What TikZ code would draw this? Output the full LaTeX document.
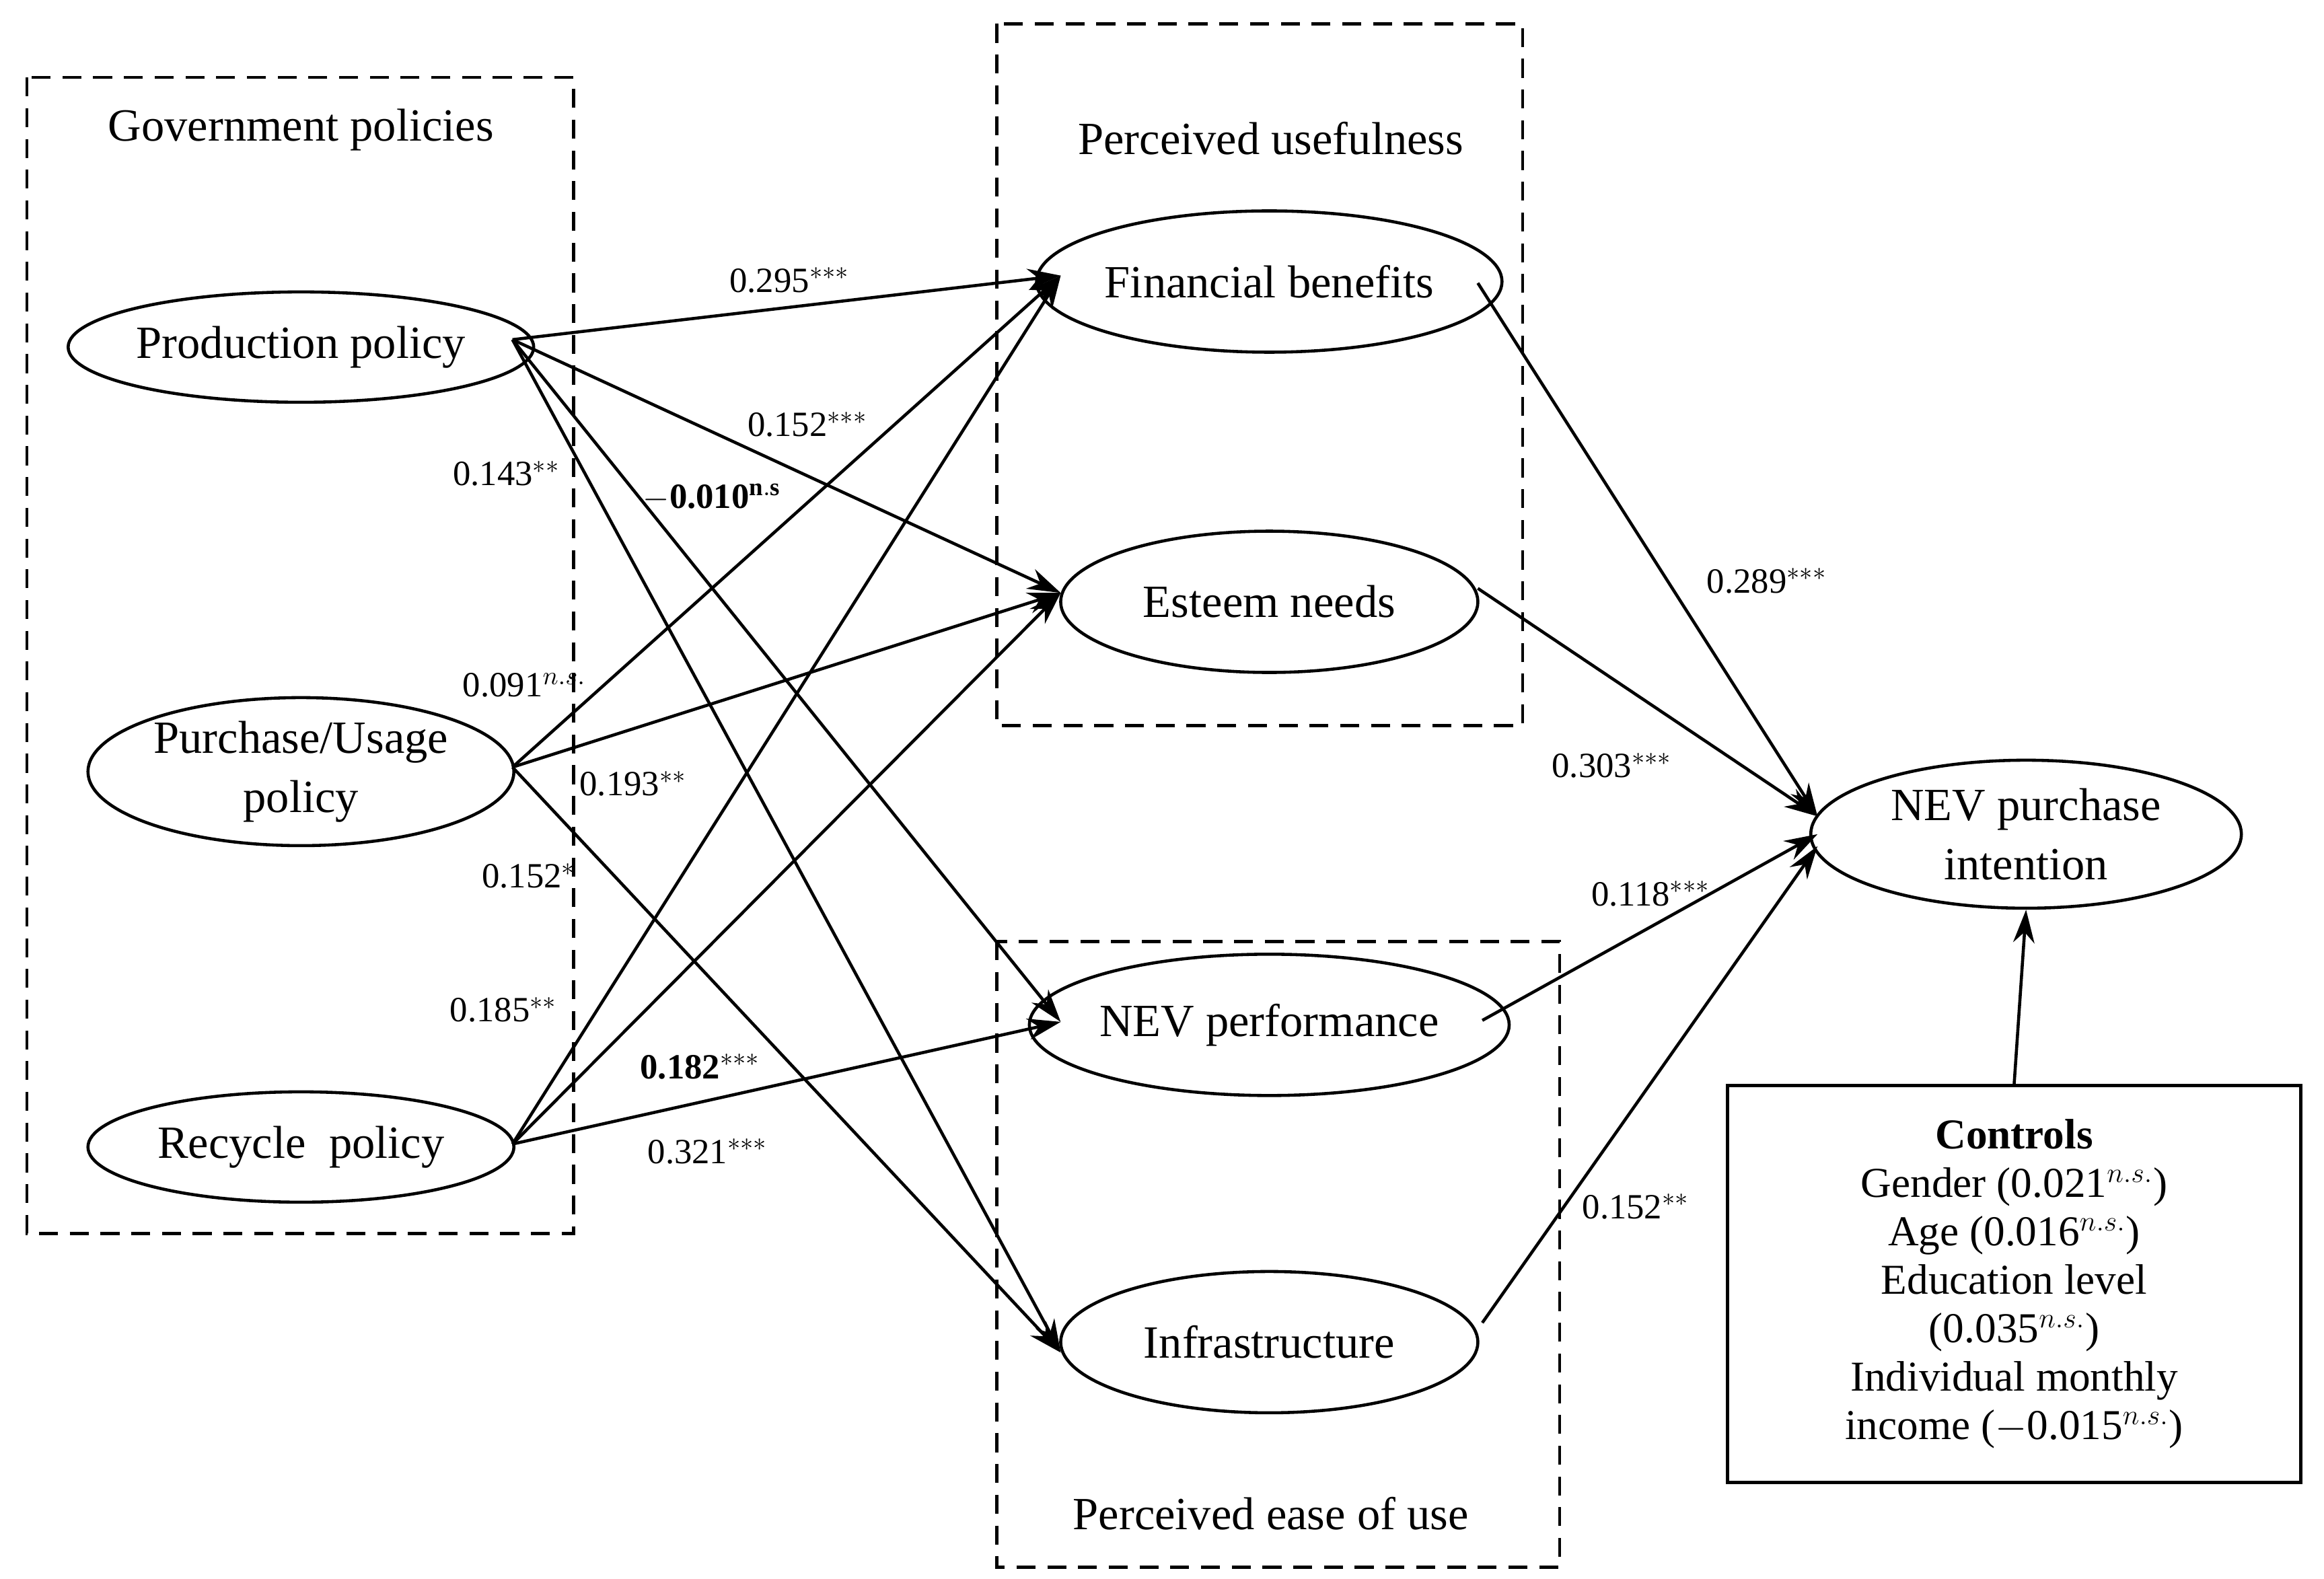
\documentclass[tikz,border=0pt]{standalone}
\usepackage{fontspec}
\setmainfont{Liberation Serif}
\usetikzlibrary{arrows.meta,shapes.geometric}
\begin{document}
\begin{tikzpicture}[x=0.02214cm,y=-0.02214cm,
 el/.style={draw,ellipse,line width=1.3pt,inner sep=0pt,font=\fontsize{19.5}{25}\selectfont,align=center},
 grp/.style={draw,dashed,line width=1.3pt,dash pattern=on 8pt off 5pt},
 ar/.style={-{Stealth[length=14pt,width=9pt]},line width=1.3pt},
 lb/.style={font=\fontsize{15}{17}\selectfont,inner sep=1pt},
 tt/.style={font=\fontsize{19.5}{22}\selectfont}]
\useasboundingbox (0,0) rectangle (1560,1060);
\draw[grp] (18,52) rectangle (385,828);
\draw[grp] (669,16) rectangle (1022,487);
\draw[grp] (669,632) rectangle (1047,1052);
\node[tt] at (202,87) {Government policies};
\node[tt] at (853,93) {Perceived usefulness};
\node[tt] at (853,1016) {Perceived ease of use};
\node[el,minimum width=6.33cm,minimum height=1.64cm] (pp) at (202,233) {Production policy};
\node[el,minimum width=6.33cm,minimum height=2.2cm] (pu) at (202,518) {Purchase/Usage\\policy};
\node[el,minimum width=6.33cm,minimum height=1.64cm] (rp) at (202,770) {Recycle\ \ policy};
\node[el,minimum width=6.2cm,minimum height=2.1cm] (fb) at (852,189) {Financial benefits};
\node[el,minimum width=6.2cm,minimum height=2.1cm] (en) at (852,404) {Esteem needs};
\node[el,minimum width=6.2cm,minimum height=2.1cm] (np) at (852,688) {NEV performance};
\node[el,minimum width=6.2cm,minimum height=2.1cm] (in) at (852,901) {Infrastructure};
\node[el,minimum width=6.4cm,minimum height=2.2cm] (pi) at (1360,560) {NEV purchase\\intention};
\node[draw,line width=1.3pt,minimum width=8.52cm,minimum height=5.9cm,align=center,font=\fontsize{18}{20.5}\selectfont] (ct) at (1352,862) {\textbf{Controls}\\Gender (0.021$^{n.s.}$)\\Age (0.016$^{n.s.}$)\\Education level\\(0.035$^{n.s.}$)\\Individual monthly\\income ($-$0.015$^{n.s.}$)};
\coordinate (ppo) at (344,228);
\coordinate (puo) at (344,515);
\coordinate (rpo) at (344,768);
\coordinate (fbi) at (712,185);
\coordinate (eni) at (712,398);
\coordinate (npi) at (712,686);
\coordinate (ini) at (712,908);
\foreach \s in {ppo,puo,rpo} \foreach \t in {fbi,eni} \draw[ar] (\s) -- (\t);
\draw[ar] (ppo) -- (npi);
\draw[ar] (ppo) -- (ini);
\draw[ar] (puo) -- (ini);
\draw[ar] (rpo) -- (npi);
\coordinate (pii) at (1220,548);
\draw[ar] (992,190) -- (pii);
\draw[ar] (992,395) -- (pii);
\draw[ar] (995,685) -- (1220,560);
\draw[ar] (995,888) -- (1220,568);
\draw[ar] (ct.north) -- (pi.south);
\node[lb] at (530,188) {0.295$^{***}$};
\node[lb] at (542,285) {0.152$^{***}$};
\node[lb] at (340,318) {0.143$^{**}$};
\node[lb] at (478,334) {\textbf{$-$0.010$^{\mathbf{n.s}}$}};
\node[lb] at (352,460) {0.091$^{n.s.}$};
\node[lb] at (425,526) {0.193$^{**}$};
\node[lb] at (355,588) {0.152$^{*}$};
\node[lb] at (338,678) {0.185$^{**}$};
\node[lb] at (470,716) {\textbf{0.182$^{***}$}};
\node[lb] at (475,773) {0.321$^{***}$};
\node[lb] at (1186,390) {0.289$^{***}$};
\node[lb] at (1082,514) {0.303$^{***}$};
\node[lb] at (1108,600) {0.118$^{***}$};
\node[lb] at (1098,810) {0.152$^{**}$};
\end{tikzpicture}
\end{document}
